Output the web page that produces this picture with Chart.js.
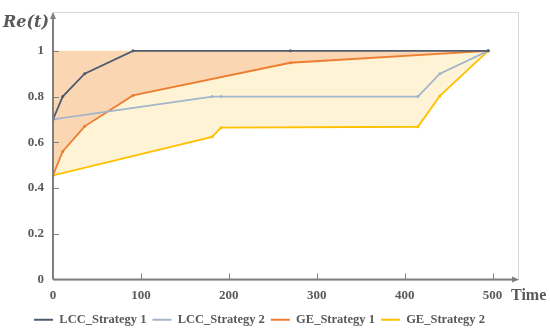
<!DOCTYPE html>
<html>
  <body style="margin:0; background:#fff;">
    <div style="width:550px; height:332px;">
      <canvas id="reliability"></canvas>
    </div>

    <script src="https://cdn.jsdelivr.net/npm/chart.js"></script>
    <script>
      // time axis ticks and values
      const xTicks = [0, 100, 200, 300, 400, 500];
      const yTicks = [0, 0.2, 0.4, 0.6, 0.8, 1];

      const lcc1Time = [0, 11, 36, 91, 270, 495];
      const lcc1Re   = [0.70, 0.80, 0.90, 1.00, 1.00, 1.00];

      const lcc2Time = [0, 181, 191, 415, 440, 495];
      const lcc2Re   = [0.70, 0.80, 0.80, 0.80, 0.90, 1.00];

      const ge1Time = [0, 11, 36, 91, 270, 495];
      const ge1Re   = [0.455, 0.56, 0.67, 0.805, 0.948, 1.00];

      const ge2Time = [0, 181, 191, 415, 440, 495];
      const ge2Re   = [0.455, 0.624, 0.664, 0.668, 0.803, 1.00];

      const pts = (xs, ys) => xs.map((x, i) => ({ x: x, y: ys[i] }));

      const axisGray = '#7f7f7f';
      const textGray = '#595959';
      const serif = '"Liberation Serif", "Times New Roman", serif';

      // axes with arrows, inner tick marks and the axis captions
      const axesDeco = {
        id: 'axesDeco',
        beforeDatasetsDraw(chart) {
          const { ctx, chartArea: a } = chart;
          ctx.save();
          ctx.strokeStyle = '#d9d9d9';
          ctx.lineWidth = 1;
          ctx.strokeRect(a.left + 0.5, a.top + 0.5, a.right - a.left - 1, a.bottom - a.top);
          ctx.restore();
        },
        afterDatasetsDraw(chart) {
          const { ctx, chartArea: a, scales } = chart;
          ctx.save();
          ctx.strokeStyle = axisGray;
          ctx.fillStyle = axisGray;
          ctx.lineWidth = 2;
          ctx.beginPath();
          ctx.moveTo(a.left, a.bottom);
          ctx.lineTo(a.left, a.top + 4);
          ctx.moveTo(a.left, a.bottom);
          ctx.lineTo(a.right - 4, a.bottom);
          ctx.stroke();
          // arrow heads
          ctx.beginPath();
          ctx.moveTo(a.left, a.top);
          ctx.lineTo(a.left - 3, a.top + 7);
          ctx.lineTo(a.left + 3, a.top + 7);
          ctx.closePath();
          ctx.fill();
          ctx.beginPath();
          ctx.moveTo(a.right, a.bottom);
          ctx.lineTo(a.right - 7, a.bottom - 3);
          ctx.lineTo(a.right - 7, a.bottom + 3);
          ctx.closePath();
          ctx.fill();
          // tick marks
          ctx.lineWidth = 1;
          ctx.beginPath();
          yTicks.forEach(v => {
            if (v === 0) return;
            const y = Math.round(scales.y.getPixelForValue(v)) + 0.5;
            ctx.moveTo(a.left, y);
            ctx.lineTo(a.left + 6, y);
          });
          xTicks.forEach(v => {
            if (v === 0) return;
            const x = Math.round(scales.x.getPixelForValue(v)) + 0.5;
            ctx.moveTo(x, a.bottom);
            ctx.lineTo(x, a.bottom - 6);
          });
          ctx.stroke();
          ctx.restore();
        },
        afterDraw(chart) {
          const { ctx } = chart;
          ctx.save();
          ctx.fillStyle = textGray;
          ctx.textBaseline = 'middle';
          ctx.font = 'italic bold 16px "DejaVu Serif", "Liberation Serif", serif';
          ctx.fillText('Re(t)', 3, 23);
          ctx.font = 'bold 16px ' + serif;
          ctx.fillText('Time', 511, 296);
          ctx.restore();
        }
      };

      const ctx = document.getElementById('reliability').getContext('2d');
      new Chart(ctx, {
        type: 'line',
        data: {
          datasets: [
            {
              label: 'LCC_Strategy 1',
              data: pts(lcc1Time, lcc1Re),
              borderColor: '#4f5b6e',
              backgroundColor: '#4f5b6e',
              borderWidth: 1.8,
              pointRadius: 1.5,
              pointBorderWidth: 0,
              fill: false,
              tension: 0
            },
            {
              label: 'LCC_Strategy 2',
              data: pts(lcc2Time, lcc2Re),
              borderColor: '#a3b5cb',
              backgroundColor: '#a3b5cb',
              borderWidth: 1.8,
              pointRadius: 1.5,
              pointBorderWidth: 0,
              fill: false,
              tension: 0
            },
            {
              label: 'GE_Strategy 1',
              data: pts(ge1Time, ge1Re),
              borderColor: '#ed7d31',
              backgroundColor: 'rgba(251, 214, 178, 1)',
              pointBackgroundColor: '#ed7d31',
              borderWidth: 1.8,
              pointRadius: 1.5,
              pointBorderWidth: 0,
              fill: { value: 1 },
              tension: 0
            },
            {
              label: 'GE_Strategy 2',
              data: pts(ge2Time, ge2Re),
              borderColor: '#ffc000',
              backgroundColor: '#fff3d6',
              pointBackgroundColor: '#ffc000',
              borderWidth: 1.8,
              pointRadius: 1.5,
              pointBorderWidth: 0,
              fill: '-1',
              tension: 0
            }
          ]
        },
        options: {
          responsive: true,
          maintainAspectRatio: false,
          animation: false,
          layout: { padding: { top: 12, right: 31, left: 0, bottom: -4 } },
          scales: {
            x: {
              type: 'linear',
              min: 0,
              max: 530,
              grid: { display: false, drawTicks: false },
              border: { display: false },
              afterBuildTicks: s => { s.ticks = xTicks.map(v => ({ value: v })); },
              afterFit: s => { s.height = 28; s.paddingLeft = 0; s.paddingRight = 0; },
              ticks: {
                padding: 8,
                color: textGray,
                font: { family: serif, weight: 'bold', size: 13 }
              }
            },
            y: {
              min: 0,
              max: 1.17,
              grid: { display: false, drawTicks: false },
              border: { display: false },
              afterBuildTicks: s => { s.ticks = yTicks.map(v => ({ value: v })); },
              afterFit: s => { s.width = 53; s.paddingTop = 0; s.paddingBottom = 0; },
              ticks: {
                padding: 9,
                color: textGray,
                font: { family: serif, weight: 'bold', size: 13 },
                callback: v => String(+v.toFixed(1))
              }
            }
          },
          plugins: {
            filler: { drawTime: 'beforeDatasetsDraw' },
            tooltip: { enabled: false },
            legend: {
              position: 'bottom',
              labels: {
                color: textGray,
                font: { family: serif, weight: 'bold', size: 12.5 },
                boxWidth: 19,
                boxHeight: 2,
                padding: 6,
                generateLabels: chart => chart.data.datasets.map((ds, i) => ({
                  text: ds.label,
                  fillStyle: ds.borderColor,
                  strokeStyle: ds.borderColor,
                  lineWidth: 0,
                  fontColor: textGray,
                  datasetIndex: i
                }))
              }
            }
          }
        },
        plugins: [axesDeco]
      });
    </script>
  </body>
</html>
